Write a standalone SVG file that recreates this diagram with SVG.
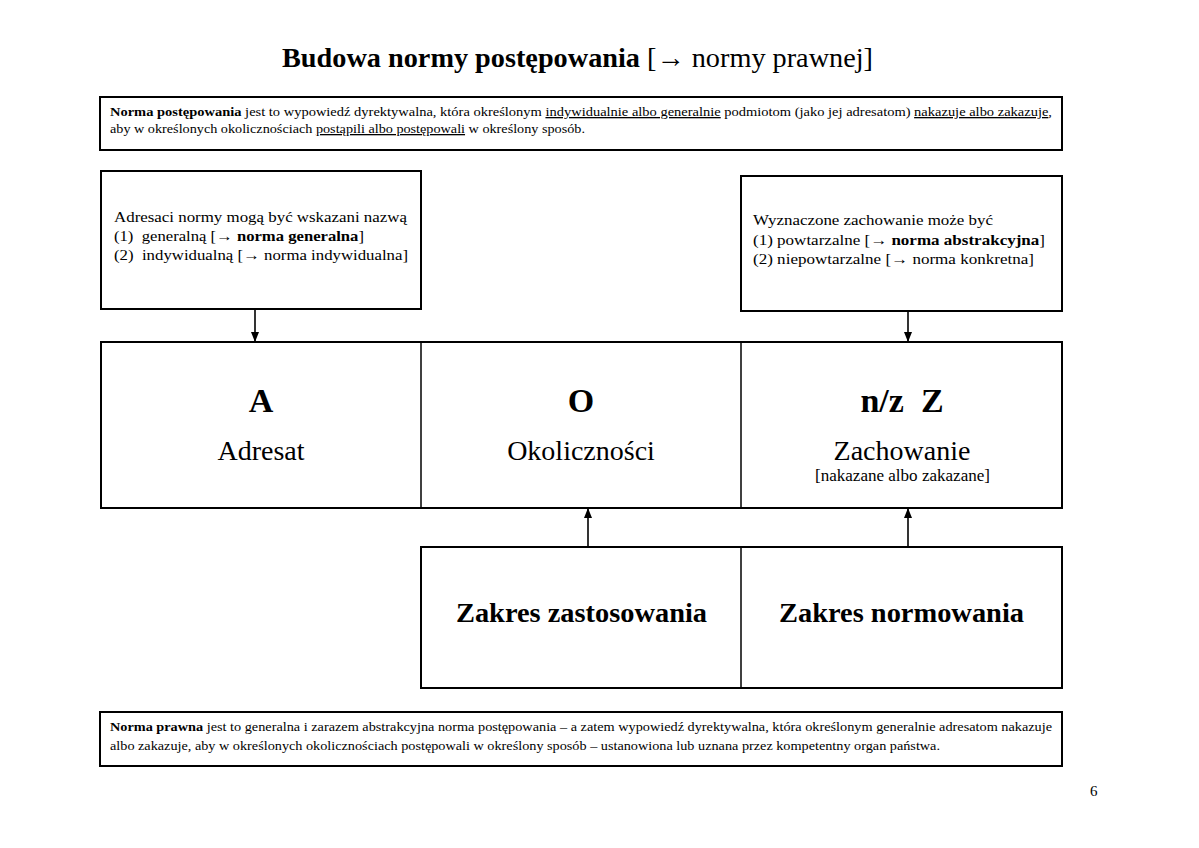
<svg xmlns="http://www.w3.org/2000/svg" width="1199" height="848" viewBox="0 0 1199 848">
<style>
text{font-family:"Liberation Serif","Times New Roman",serif;fill:#000}
.box{fill:#fff;stroke:#000;stroke-width:2}
.div{stroke:#000;stroke-width:1.5;fill:none}
.small{font-size:13px}
.mid{font-size:15px}
.big{font-size:34px;font-weight:bold}
.lbl{font-size:28px}
.b{font-weight:bold}
.u{text-decoration:underline}
.conn{stroke:#000;stroke-width:1.6;fill:none}
</style>
<defs>
<marker id="ah" viewBox="0 0 10 8" refX="10" refY="4" markerWidth="10" markerHeight="8" markerUnits="userSpaceOnUse" orient="auto">
<path d="M0,0 L10,4 L0,8 z" fill="#000"/>
</marker>
</defs>
<rect width="1199" height="848" fill="#fff"/>
<g id="title">
<text x="282" y="67" font-size="28" textLength="591" lengthAdjust="spacingAndGlyphs"><tspan class="b">Budowa normy postępowania</tspan> [→ normy prawnej]</text>
</g>
<g id="def-norma-postepowania">
<rect class="box" x="100" y="97" width="962" height="53"/>
<text class="small" x="110" y="116" textLength="942" lengthAdjust="spacingAndGlyphs"><tspan class="b">Norma postępowania</tspan> jest to wypowiedź dyrektywalna, która określonym <tspan class="u">indywidualnie albo generalnie</tspan> podmiotom (jako jej adresatom) <tspan class="u">nakazuje albo zakazuje</tspan>,</text>
<text class="small" x="110" y="133" textLength="475" lengthAdjust="spacingAndGlyphs">aby w określonych okolicznościach <tspan class="u">postąpili albo postępowali</tspan> w określony sposób.</text>
</g>
<g id="adresaci">
<rect class="box" x="101" y="171" width="320" height="138"/>
<text class="mid" x="114" y="222" textLength="293" lengthAdjust="spacingAndGlyphs">Adresaci normy mogą być wskazani nazwą</text>
<text class="mid" x="114" y="241" textLength="250" lengthAdjust="spacingAndGlyphs" xml:space="preserve">(1)  generalną [→ <tspan class="b">norma generalna</tspan>]</text>
<text class="mid" x="114" y="260" textLength="294" lengthAdjust="spacingAndGlyphs" xml:space="preserve">(2)  indywidualną [→ norma indywidualna]</text>
</g>
<g id="zachowanie-info">
<rect class="box" x="741" y="176" width="321" height="135"/>
<text class="mid" x="753" y="225" textLength="240" lengthAdjust="spacingAndGlyphs">Wyznaczone zachowanie może być</text>
<text class="mid" x="753" y="245" textLength="292" lengthAdjust="spacingAndGlyphs">(1) powtarzalne [→ <tspan class="b">norma abstrakcyjna</tspan>]</text>
<text class="mid" x="753" y="264" textLength="281" lengthAdjust="spacingAndGlyphs">(2) niepowtarzalne [→ norma konkretna]</text>
</g>
<g id="struktura">
<rect class="box" x="101" y="342" width="961" height="166" stroke-width="2.5"/>
<line class="div" x1="421" y1="342" x2="421" y2="508"/>
<line class="div" x1="741" y1="342" x2="741" y2="508"/>
</g>
<g id="adresat">
<text class="big" x="261" y="412" text-anchor="middle">A</text>
<text class="lbl" x="261" y="460" text-anchor="middle">Adresat</text>
</g>
<g id="okolicznosci">
<text class="big" x="581" y="412" text-anchor="middle">O</text>
<text class="lbl" x="581" y="460" text-anchor="middle">Okoliczności</text>
</g>
<g id="zachowanie">
<text class="big" x="902" y="412" text-anchor="middle" xml:space="preserve">n/z  Z</text>
<text class="lbl" x="902" y="460" text-anchor="middle">Zachowanie</text>
<text x="815" y="481" font-size="16" textLength="175" lengthAdjust="spacingAndGlyphs">[nakazane albo zakazane]</text>
</g>
<g id="zakresy">
<rect class="box" x="421" y="547" width="641" height="141"/>
<line class="div" x1="741" y1="547" x2="741" y2="688"/>
</g>
<g id="zakres-zastosowania">
<text x="456" y="622" font-size="28" class="b" textLength="251" lengthAdjust="spacingAndGlyphs">Zakres zastosowania</text>
</g>
<g id="zakres-normowania">
<text x="779" y="622" font-size="28" class="b" textLength="245" lengthAdjust="spacingAndGlyphs">Zakres normowania</text>
</g>
<g id="def-norma-prawna">
<rect class="box" x="100" y="712" width="962" height="54"/>
<text class="small" x="110" y="731" textLength="942" lengthAdjust="spacingAndGlyphs"><tspan class="b">Norma prawna</tspan> jest to generalna i zarazem abstrakcyjna norma postępowania – a zatem wypowiedź dyrektywalna, która określonym generalnie adresatom nakazuje</text>
<text class="small" x="110" y="750" textLength="830" lengthAdjust="spacingAndGlyphs">albo zakazuje, aby w określonych okolicznościach postępowali w określony sposób – ustanowiona lub uznana przez kompetentny organ państwa.</text>
</g>
<g id="connectors">
<line class="conn" x1="255" y1="309" x2="255" y2="342" marker-end="url(#ah)"/>
<line class="conn" x1="908" y1="311" x2="908" y2="342" marker-end="url(#ah)"/>
<line class="conn" x1="588" y1="547" x2="588" y2="508" marker-end="url(#ah)"/>
<line class="conn" x1="908" y1="547" x2="908" y2="508" marker-end="url(#ah)"/>
</g>
<g id="page-number">
<text x="1090" y="796" font-size="15">6</text>
</g>
</svg>
